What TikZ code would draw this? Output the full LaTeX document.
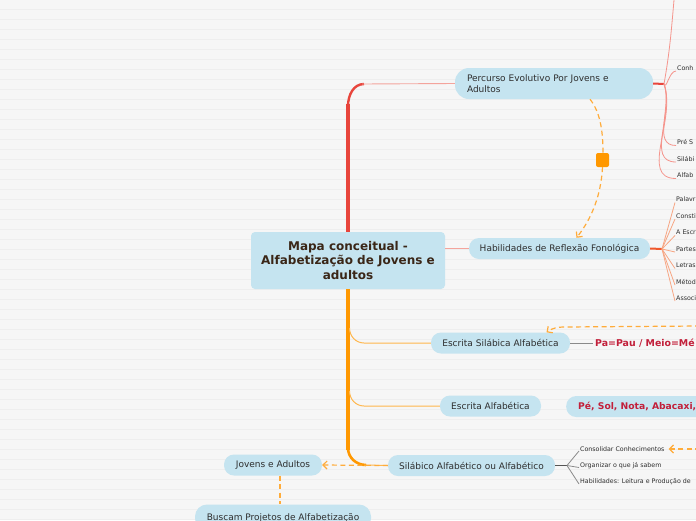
\documentclass[tikz,border=0pt]{standalone}
\usepackage{fontspec}
\setmainfont{DejaVu Sans}
\usetikzlibrary{arrows.meta,calc}
\definecolor{bg}{HTML}{F6F6F6}
\definecolor{stripe}{HTML}{EEEEEE}
\definecolor{nodeblue}{HTML}{C5E4F0}
\definecolor{txt}{HTML}{2E2E2E}
\definecolor{titlec}{HTML}{3A2617}
\definecolor{redtrunk}{HTML}{E8453C}
\definecolor{redthin}{HTML}{F4A49C}
\definecolor{orangetrunk}{HTML}{FF9800}
\definecolor{orangethin}{HTML}{FFB74D}
\definecolor{dashorange}{HTML}{FFAC3A}
\definecolor{crimson}{HTML}{C21F3A}
\definecolor{habred}{HTML}{F0582C}
\definecolor{habthin}{HTML}{F7A582}
\definecolor{graybr}{HTML}{555555}
\definecolor{graythin}{HTML}{8A8A8A}
\begin{document}
\begin{tikzpicture}[x=1pt,y=-1pt,
  pill/.style={fill=nodeblue, rounded corners=10pt, minimum height=21pt, inner sep=0pt, text=txt, font=\fontsize{9}{11}\selectfont},
  leaf/.style={anchor=west, inner sep=1pt, text=txt, font=\fontsize{6.3}{7}\selectfont},
  dashconn/.style={draw=dashorange, line width=1.2pt, dash pattern=on 5pt off 3.5pt},
  arrowtip/.style={-{Straight Barb[length=4pt,width=8pt,line width=1.2pt]}},
  thinred/.style={draw=redthin, line width=0.9pt},
  thinorange/.style={draw=orangethin, line width=1pt}]
\useasboundingbox (0,0) rectangle (696,520);
\clip (0,0) rectangle (696,520);
\fill[bg] (0,0) rectangle (696,520);
\foreach \y in {9,19,...,519} \draw[stripe, line width=0.7pt] (0,\y) -- (696,\y);

% central node
\node[fill=nodeblue, rounded corners=4pt, minimum width=194pt, minimum height=57pt, inner sep=0pt,
      align=center, text=titlec, font=\fontsize{12}{14.6}\selectfont\bfseries] (C) at (348,260.5)
      {Mapa conceitual -\\Alfabetização de Jovens e\\adultos};

% main topics
\node[pill, rounded corners=14pt, minimum width=198pt, minimum height=31pt, text width=174pt, align=left, inner xsep=12pt] (P) at (554,83.5)
      {Percurso Evolutivo Por Jovens e\\Adultos};
\node[pill, minimum width=181pt] (H) at (559.5,248.5) {Habilidades de Reflexão Fonológica};
\node[pill, minimum width=139pt] (ESA) at (500.5,343) {Escrita Silábica Alfabética};
\node[pill, minimum width=101pt] (EA) at (490.5,406) {Escrita Alfabética};
\node[pill, minimum width=167pt] (SA) at (471.5,465.5) {Silábico Alfabético ou Alfabético};
\node[pill, minimum width=98pt] (JA) at (273,465) {Jovens e Adultos};
\node[pill, minimum width=176pt, minimum height=26pt, rounded corners=12pt] (BP) at (283,517.5) {Buscam Projetos de Alfabetização};

% examples
\node[anchor=west, inner sep=2pt, text=crimson, font=\fontsize{9.4}{11}\selectfont\bfseries] (PA) at (593,343) {Pa=Pau / Meio=Mé};
\node[anchor=west, fill=nodeblue, rounded corners=10pt, minimum height=21pt, inner xsep=12pt, inner ysep=0pt,
      text=crimson, font=\fontsize{9.2}{11}\selectfont\bfseries] (PE) at (566,406.5) {Pé, Sol, Nota, Abacaxi,};

% red trunk to Percurso
\draw[redtrunk, line width=4.2pt] (C.north) -- (348,104);
\draw[redtrunk, line width=2.4pt] (348,106) to[out=90,in=180] (364,84);
\draw[thinred] (362,84) -- (P.west);

% Habilidades link
\draw[thinred] (C.east |- H.west) -- (H.west);

% orange trunk
\draw[orangetrunk, line width=4.4pt] (C.south) -- (348,450);
\draw[orangetrunk, line width=2.6pt] (348,448) to[out=-90,in=180] (366,465);
\draw[thinorange] (364,465) -- (SA.west);
\draw[thinorange] (349.5,328) to[out=-90,in=180] (364,343) -- (ESA.west);
\draw[thinorange] (349.5,391) to[out=-90,in=180] (364,406) -- (EA.west);

% Percurso children
\coordinate (bP) at (664,84);
\coordinate (topend) at (674,0);
\draw[redtrunk, line width=2pt] (P.east) -- (bP);
\node[leaf] (p1) at (676,68) {Conh};
\node[leaf] (p2) at (676,142.5) {Pré S};
\node[leaf] (p3) at (676,159) {Silábi};
\node[leaf] (p4) at (676,175.5) {Alfab};
\foreach \n in {p1,p2,p3,p4} \draw[draw=redthin!90!red, line width=0.8pt] (bP) to[out=-70,in=180] ([yshift=-3pt]\n.west);
\draw[draw=redthin!90!red, line width=0.8pt] (bP) to[out=80,in=-95] (topend);

% Habilidades children
\coordinate (bH) at (662,249);
\draw[habred, line width=2pt] (H.east) -- (bH);
\node[leaf] (h1) at (675,199.5) {Palavr};
\node[leaf] (h2) at (675,216) {Constit};
\node[leaf] (h3) at (675,232.5) {A Escr};
\node[leaf] (h4) at (675,249) {Partes};
\node[leaf] (h5) at (675,265.5) {Letras};
\node[leaf] (h6) at (675,282) {Métod};
\node[leaf] (h7) at (675,298) {Associ};
\foreach \n in {h1,h2,h3,h4,h5,h6,h7} \draw[habthin, line width=0.8pt] (bH) -- ([yshift=-3pt]\n.west);

% Silabico children
\coordinate (bS) at (567,465.5);
\draw[graybr, line width=1.6pt] (SA.east) -- (bS);
\node[leaf] (s1) at (579,449) {Consolidar Conhecimentos};
\node[leaf] (s2) at (579,465.5) {Organizar o que já sabem};
\node[leaf] (s3) at (579,482) {Habilidades: Leitura e Produção de};
\foreach \n in {s1,s2,s3} \draw[graythin, line width=0.8pt] (bS) -- ([yshift=-2pt]\n.west);

% example link
\draw[graythin, line width=1pt] (ESA.east) -- (PA.west);

% dashed relations
\draw[dashconn] ([xshift=36pt]P.south) .. controls (600,112) and (603,130) .. (603,153);
\node[fill=orangetrunk, rounded corners=2pt, minimum width=13pt, minimum height=14pt, inner sep=0pt] (SQ) at (602.5,160) {};
\draw[dashconn, arrowtip] (SQ.south) .. controls (601,195) and (592,218) .. ([xshift=17pt]H.north);
\coordinate (rA) at (700,326);
\draw[dashconn, arrowtip] (rA) -- (565,327) to[out=180,in=35] ([xshift=46pt]ESA.north);
\coordinate (rB) at (700,449);
\draw[dashconn, arrowtip] (rB) -- ([xshift=3pt]s1.east);
\draw[dashconn, arrowtip] (SA.west) -- (JA.east);
\draw[dashconn] ([xshift=7pt]JA.south) -- ([xshift=7pt]JA.south |- BP.north);
\end{tikzpicture}
\end{document}
